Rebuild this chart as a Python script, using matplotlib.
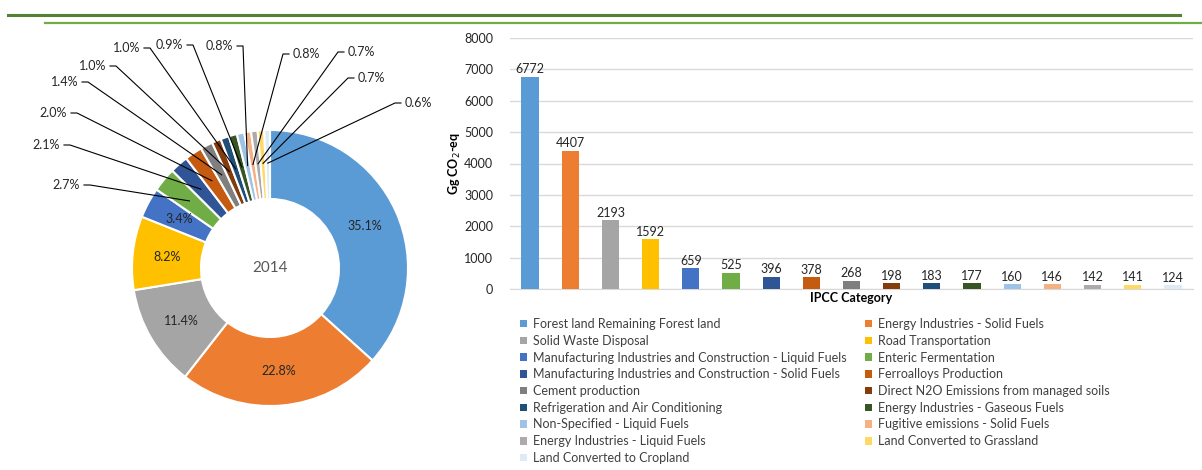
import numpy as np
import matplotlib.pyplot as plt
from matplotlib.lines import Line2D
from matplotlib.patches import Patch

plt.rcParams['font.family'] = ['Lato', 'DejaVu Sans']

categories = [
    'Forest land Remaining Forest land',
    'Energy Industries - Solid Fuels',
    'Solid Waste Disposal',
    'Road Transportation',
    'Manufacturing Industries and Construction - Liquid Fuels',
    'Enteric Fermentation',
    'Manufacturing Industries and Construction - Solid Fuels',
    'Ferroalloys Production',
    'Cement production',
    'Direct N2O Emissions from managed soils',
    'Refrigeration and Air Conditioning',
    'Energy Industries - Gaseous Fuels',
    'Non-Specified - Liquid Fuels',
    'Fugitive emissions - Solid Fuels',
    'Energy Industries - Liquid Fuels',
    'Land Converted to Grassland',
    'Land Converted to Cropland',
]
emissions = [6772, 4407, 2193, 1592, 659, 525, 396, 378, 268, 198,
             183, 177, 160, 146, 142, 141, 124]
# share of national total (%), as published
shares = [35.1, 22.8, 11.4, 8.2, 3.4, 2.7, 2.1, 2.0, 1.4, 1.0,
          1.0, 0.9, 0.8, 0.8, 0.7, 0.7, 0.6]
year = '2014'

colors = ['#5B9BD5', '#ED7D31', '#A5A5A5', '#FFC000', '#4472C4', '#70AD47',
          '#2F5597', '#C55A11', '#7F7F7F', '#843C0C', '#1F4E79', '#375623',
          '#9DC3E6', '#F4B183', '#AEAAAA', '#FFD966', '#DEEBF7']

W, H = 1202, 470
fig = plt.figure(figsize=(W / 100, H / 100), dpi=100)

# header rules
fig.add_artist(Line2D([8 / W, 1180 / W], [1 - 15 / H] * 2, color='#548235', lw=2.2))
fig.add_artist(Line2D([45 / W, 1.0], [1 - 22.5 / H] * 2, color='#70AD47', lw=1.6))

# ---- donut (axes in pixel units) ----
ax1 = fig.add_axes([0, 0, 440 / W, 1])
cx, cy, R = 270, H - 268, 138
wedges, _ = ax1.pie(emissions, radius=R, center=(cx, cy), startangle=90,
                    counterclock=False, colors=colors,
                    wedgeprops=dict(width=R * 0.5, edgecolor='white', linewidth=1.5))
ax1.set_xlim(0, 440)
ax1.set_ylim(0, H)
ax1.axis('off')
ax1.text(cx, cy, year, ha='center', va='center', fontsize=11, color='#595959')

total = float(sum(emissions))
frac = np.cumsum([0] + emissions)[:-1] / total + np.array(emissions) / total / 2
ang = np.deg2rad(90 - 360 * frac)

# first five labels sit inside the ring
for i in range(5):
    r = R * 0.75
    ax1.text(cx + r * np.cos(ang[i]), cy + r * np.sin(ang[i]), f'{shares[i]:.1f}%',
             ha='center', va='center', fontsize=9, color='#262626')

# the rest get leader lines (text anchor in px from top-left, side of text)
outer_pos = [(80, 185, 'l'), (60, 145, 'l'), (67, 113, 'l'), (78, 82, 'l'),
             (106, 66, 'l'), (140, 48, 'l'), (183, 45, 'l'), (233, 46, 'l'),
             (293, 54, 'r'), (348, 52, 'r'), (358, 78, 'r'), (405, 103, 'r')]
for k, (px, py, side) in enumerate(outer_pos):
    i = k + 5
    ty = H - py
    r = R * 0.76
    ex, ey = cx + r * np.cos(ang[i]), cy + r * np.sin(ang[i])
    if side == 'l':
        ax1.text(px, ty, f'{shares[i]:.1f}%', ha='right', va='center', fontsize=9, color='#262626')
        x0 = px + 4
        ax1.plot([x0, x0 + 6, ex], [ty, ty, ey], color='black', lw=0.8)
    else:
        ax1.text(px, ty, f'{shares[i]:.1f}%', ha='left', va='center', fontsize=9, color='#262626')
        x0 = px - 4
        ax1.plot([x0, x0 - 6, ex], [ty, ty, ey], color='black', lw=0.8)

# ---- bar chart ----
ax2 = fig.add_axes([510 / W, (H - 289) / H, 683 / W, 251 / H])
x = np.arange(len(emissions))
ax2.bar(x, emissions, width=0.43, color=colors, zorder=3)
for xi, v in zip(x, emissions):
    ax2.text(xi, v + 40, str(v), ha='center', va='bottom', fontsize=9, color='#262626')
ax2.set_xlim(-0.5, len(emissions) - 0.5)
ax2.set_ylim(0, 8000)
ax2.set_yticks(np.arange(0, 8001, 1000))
ax2.set_xticks([])
ax2.grid(axis='y', color='#D9D9D9', lw=1, zorder=0)
for s in ['top', 'right', 'left']:
    ax2.spines[s].set_visible(False)
ax2.spines['bottom'].set_color('#D9D9D9')
ax2.tick_params(axis='y', length=0, pad=12, labelsize=9, labelcolor='#262626')
ax2.set_ylabel('Gg CO$_2$-eq', fontsize=9, fontweight='bold', labelpad=1)
ax2.set_xlabel('IPCC Category', fontsize=9, fontweight='bold', labelpad=2)

# legend, two columns filled row by row
handles = [Patch(facecolor=c, edgecolor='none') for c in colors]
for col, x_px in ((0, 520), (1, 865)):
    idx = list(range(col, len(categories), 2))
    fig.legend([handles[i] for i in idx], [categories[i] for i in idx],
               loc='upper left', bbox_to_anchor=(x_px / W, 1 - 318 / H),
               frameon=False, fontsize=9, handlelength=0.55, handleheight=0.55,
               handletextpad=0.5, labelspacing=0.38, borderaxespad=0,
               borderpad=0, labelcolor='#404040')

fig.savefig('out.png', dpi=100)
